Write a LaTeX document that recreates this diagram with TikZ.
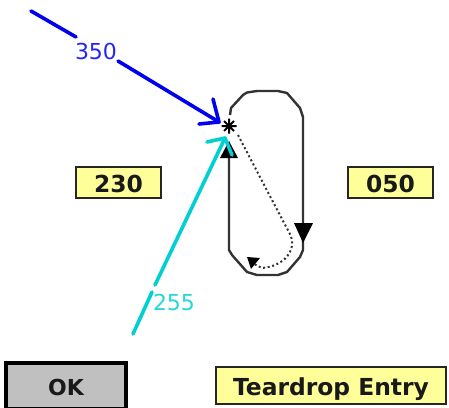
\documentclass[tikz,border=0pt]{standalone}
\usepackage{fontspec}
\setmainfont{DejaVu Sans}
\definecolor{bluec}{HTML}{0000F0}
\definecolor{cyanc}{HTML}{00D0D0}
\definecolor{tagc}{HTML}{FFFF99}
\definecolor{okc}{HTML}{C0C0C0}
\tikzset{
  px/.style={x=1pt,y=-1pt},
  tag/.style={draw=black!85,line width=1.7pt,fill=tagc,minimum height=31pt,inner sep=0pt,text depth=0pt,font=\fontsize{23.4}{23.4}\selectfont\bfseries,text=black!90},
  okbtn/.style={draw=black,line width=3.2pt,fill=okc,inner sep=0pt,text depth=0pt,text height=18pt,font=\fontsize{22}{22}\selectfont\bfseries,text=black!90},
  hdg/.style={inner sep=0pt,font=\fontsize{22}{22}\selectfont},
  inbound/.style={line width=3.6pt,line cap=round,line join=round},
  track/.style={draw=black!80,line width=2.4pt,line join=round},
  dots/.style={draw=black!80,line width=2pt,dash pattern=on 2pt off 2.6pt},
  solidhead/.style={fill=black,draw=none}
}
\begin{document}
\begin{tikzpicture}[px]
\useasboundingbox (0,0) rectangle (449,407);
% fixes
\coordinate (fix) at (229,126);
\coordinate (bstart) at (31,11);
\coordinate (bgapa) at (76,37);
\coordinate (bgapb) at (118,61);
\coordinate (btip) at (219,122);
\coordinate (bbarba) at (213,99);
\coordinate (bbarbb) at (199,124);
\coordinate (cstart) at (133,334);
\coordinate (cgapa) at (152,292);
\coordinate (cgapb) at (155,285);
\coordinate (ctip) at (225,138);
\coordinate (cbarba) at (207,142);
\coordinate (cbarbb) at (232,155);
% racetrack
\draw[track] (fix) ++(1,-11) -- (231,108) -- (243,95) -- (247,92.5) -- (257,91) -- (278,91) -- (287,93) -- (300,108) -- (303,117)
  -- (303,250) -- (300,257) -- (287,272) -- (278,275) -- (257,275) -- (247,272) -- (232,255) -- (229,250) -- (229,150);
\fill[solidhead] (229,141) -- (220,158) -- (238,158) -- cycle;
\fill[solidhead] (294,223) -- (313,223) -- (303,243) -- cycle;
% teardrop dotted
\draw[dots] (238,135) -- (272,200) -- (291,236) .. controls (296,250) and (285,266) .. (262,268) -- (254,264);
\fill[solidhead] (247,257) -- (260,258) -- (251,269) -- cycle;
% fix star
\draw[black,line width=2pt] (221.5,126) -- (236.5,126) (229,118.5) -- (229,133.5) (224,121) -- (234,131) (224,131) -- (234,121);
% blue inbound
\draw[inbound,bluec] (bstart) -- (bgapa);
\draw[inbound,bluec] (bgapb) -- (btip);
\draw[inbound,bluec] (bbarba) -- (btip) -- (bbarbb);
\node[hdg,text=bluec!85!white] (lblb) at (96,51.5) {350};
% cyan inbound
\draw[inbound,cyanc] (cstart) -- (cgapa);
\draw[inbound,cyanc] (cgapb) -- (ctip);
\draw[inbound,cyanc] (cbarba) -- (ctip) -- (cbarbb);
\node[hdg,text=cyanc!85!white] (lblc) at (174,302) {255};
% boxes
\node[tag,text height=20pt,minimum width=85pt] (inb) at (118.5,182.5) {230};
\node[tag,text height=20pt,minimum width=85pt] (outb) at (390.5,182.5) {050};
\node[okbtn,minimum width=120pt,minimum height=46pt] (ok) at (66,386) {OK};
\node[tag,text height=19pt,minimum width=230pt,minimum height=37pt] (entry) at (331,385.5) {Teardrop Entry};
\end{tikzpicture}
\end{document}
